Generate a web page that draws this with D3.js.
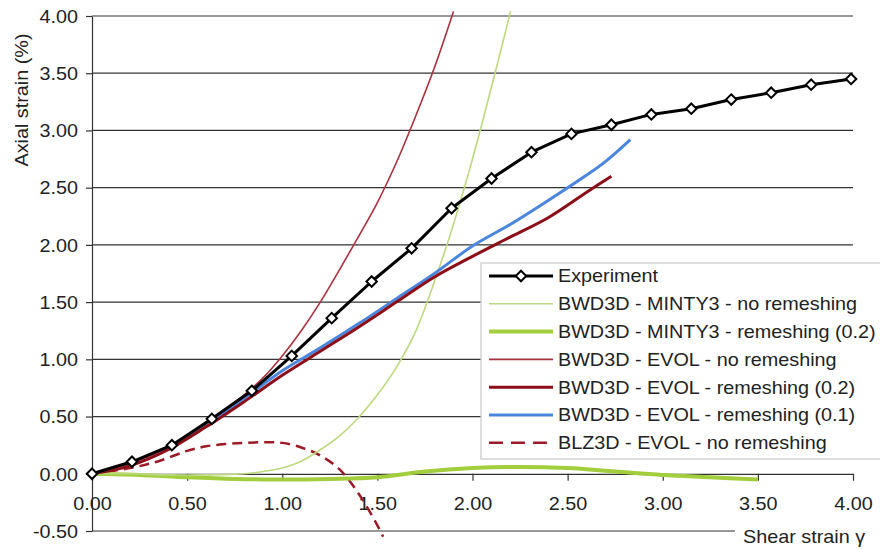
<!DOCTYPE html>
<html><head><meta charset="utf-8">
<script src="https://cdn.jsdelivr.net/npm/d3@7"></script>
<style>
body{margin:0;background:#fff}
text{font-family:"Liberation Sans",Arial,Helvetica,sans-serif;fill:#222}
</style>
</head><body>
<svg id="c" width="880" height="549"></svg>
<script>
// ---- data ----
const xTicks = [0, 0.5, 1, 1.5, 2, 2.5, 3, 3.5, 4];
const yTicks = [-0.5, 0, 0.5, 1, 1.5, 2, 2.5, 3, 3.5, 4];
const xTitle = "Shear strain γ";
const yTitle = "Axial strain (%)";

const experiment = [[0,0],[0.21,0.105],[0.42,0.25],[0.63,0.48],[0.84,0.725],[1.05,1.03],[1.26,1.36],[1.47,1.68],[1.68,1.97],[1.89,2.32],[2.10,2.58],[2.31,2.81],[2.52,2.97],[2.73,3.05],[2.94,3.14],[3.15,3.19],[3.36,3.27],[3.57,3.33],[3.78,3.40],[3.99,3.45]];
const mintyNoRemesh = [[0,0],[0.2,0],[0.4,-0.01],[0.6,-0.01],[0.8,0],[0.9,0.02],[1.0,0.05],[1.1,0.11],[1.2,0.21],[1.3,0.33],[1.4,0.49],[1.5,0.69],[1.6,0.93],[1.7,1.24],[1.8,1.68],[1.9,2.18],[2.0,2.75],[2.1,3.38],[2.2,4.04]];
const mintyRemesh02 = [[0,0],[0.25,-0.01],[0.5,-0.03],[0.75,-0.045],[1.0,-0.05],[1.25,-0.045],[1.5,-0.03],[1.75,0.02],[2.0,0.05],[2.25,0.06],[2.5,0.05],[2.75,0.02],[3.0,-0.01],[3.25,-0.03],[3.5,-0.05]];
const evolNoRemesh = [[0,0],[0.2,0.09],[0.4,0.23],[0.6,0.44],[0.8,0.69],[0.9,0.84],[1.0,1.03],[1.1,1.25],[1.2,1.50],[1.3,1.78],[1.4,2.07],[1.5,2.37],[1.6,2.72],[1.7,3.12],[1.8,3.55],[1.9,4.04]];
const evolRemesh02 = [[0,0],[0.2,0.07],[0.4,0.21],[0.6,0.41],[0.8,0.63],[1.0,0.86],[1.2,1.07],[1.4,1.28],[1.6,1.50],[1.8,1.72],[2.0,1.90],[2.2,2.07],[2.4,2.24],[2.6,2.46],[2.73,2.60]];
const evolRemesh01 = [[0,0],[0.2,0.08],[0.4,0.23],[0.6,0.43],[0.8,0.66],[1.0,0.90],[1.2,1.10],[1.4,1.31],[1.6,1.53],[1.8,1.75],[2.0,1.99],[2.2,2.18],[2.4,2.39],[2.6,2.61],[2.7,2.73],[2.83,2.92]];
const blzNoRemesh = [[0,0],[0.2,0.05],[0.35,0.11],[0.5,0.2],[0.6,0.24],[0.7,0.26],[0.8,0.27],[0.9,0.275],[1.0,0.27],[1.1,0.23],[1.2,0.16],[1.3,0.04],[1.4,-0.17],[1.5,-0.45],[1.53,-0.55]];

const seriesNames = ["Experiment","BWD3D - MINTY3 - no remeshing","BWD3D - MINTY3 - remeshing (0.2)","BWD3D - EVOL - no remeshing","BWD3D - EVOL - remeshing (0.2)","BWD3D - EVOL - remeshing (0.1)","BLZ3D - EVOL - no remeshing"];
const seriesData = [experiment, mintyNoRemesh, mintyRemesh02, evolNoRemesh, evolRemesh02, evolRemesh01, blzNoRemesh];
const seriesColors = ["#000000","#bcd97f","#a2cd3c","#a8323e","#8c0f18","#4a86dd","#9a1c28"];
const seriesWidths = [3, 1.6, 4, 1.6, 3, 3, 2.5];
const seriesDash = [null, null, null, null, null, null, "10,6"];
const drawOrder = [6, 2, 1, 5, 4, 3, 0];

// ---- chart ----
const svg = d3.select("#c");
const x = d3.scaleLinear().domain([0, 4]).range([92, 853]);
const y = d3.scaleLinear().domain([-0.5, 4]).range([531, 16]);
const fmt = d => d.toFixed(2);
const SX = 1.1;
const axisColor = "#333";

// gridlines
svg.append("g").selectAll("line").data(yTicks.filter(d => d !== 0)).join("line")
  .attr("x1", x(0)).attr("x2", x(4))
  .attr("y1", d => y(d)).attr("y2", d => y(d))
  .attr("stroke", axisColor).attr("stroke-width", 1.2);

// y axis
const gy = svg.append("g").attr("transform", `translate(${x(0)},0)`)
  .call(d3.axisLeft(y).tickValues(yTicks).tickFormat(fmt).tickSize(6).tickSizeOuter(0));
gy.select(".domain").attr("stroke", axisColor).attr("stroke-width", 1.2);
gy.selectAll(".tick line").attr("stroke", axisColor).attr("stroke-width", 1.2);
gy.selectAll(".tick text").attr("font-size", 18).attr("x", -14 / SX).attr("dy", "0.35em")
  .attr("transform", `scale(${SX},1)`).attr("fill", "#222");

// x axis at y=0
const gx = svg.append("g").attr("transform", `translate(0,${y(0)})`)
  .call(d3.axisBottom(x).tickValues(xTicks).tickFormat(fmt).tickSize(7).tickSizeOuter(0));
gx.select(".domain").attr("stroke", axisColor).attr("stroke-width", 1.2);
gx.selectAll(".tick line").attr("stroke", axisColor).attr("stroke-width", 1.2);
gx.selectAll(".tick text").attr("font-size", 18).attr("y", 36).attr("dy", 0)
  .attr("transform", `scale(${SX},1)`).attr("fill", "#222");

// axis titles
const xt = svg.append("g").attr("transform", "translate(743,543)");
xt.append("rect").attr("x", -8).attr("y", -16).attr("width", 140).attr("height", 22).attr("fill", "#fff");
xt.append("text").attr("font-size", 18).attr("transform", `scale(${SX},1)`).text(xTitle);

svg.append("text").attr("font-size", 18).attr("text-anchor", "middle")
  .attr("transform", `translate(28,100) rotate(-90) scale(${SX},1)`).text(yTitle);

// series
const plot = svg.append("g");
const lineLinear = d3.line().x(d => x(d[0])).y(d => y(d[1]));
const lineSmooth = d3.line().x(d => x(d[0])).y(d => y(d[1])).curve(d3.curveCatmullRom.alpha(0.5));
drawOrder.forEach(i => {
  plot.append("path").datum(seriesData[i])
    .attr("d", i === 0 ? lineLinear : lineSmooth)
    .attr("fill", "none")
    .attr("stroke", seriesColors[i])
    .attr("stroke-width", seriesWidths[i])
    .attr("stroke-dasharray", seriesDash[i])
    .attr("stroke-linejoin", "round");
});
const diamond = d3.symbol().type(d3.symbolDiamond2).size(70);
plot.append("g").selectAll("path").data(experiment).join("path")
  .attr("d", diamond)
  .attr("transform", d => `translate(${x(d[0])},${y(d[1])})`)
  .attr("fill", "#fff").attr("stroke", "#000").attr("stroke-width", 2);

// legend
const lg = svg.append("g");
lg.append("rect").attr("x", 481).attr("y", 263).attr("width", 420).attr("height", 196)
  .attr("fill", "#fff").attr("stroke", "#c8c8c8").attr("stroke-width", 1.2);
seriesNames.forEach((name, i) => {
  const cy = 276 + i * 27.8;
  lg.append("line").attr("x1", 489).attr("x2", 553).attr("y1", cy).attr("y2", cy)
    .attr("stroke", seriesColors[i]).attr("stroke-width", seriesWidths[i])
    .attr("stroke-dasharray", seriesDash[i] ? "14,8" : null);
  if (i === 0) {
    lg.append("path").attr("d", diamond).attr("transform", `translate(521,${cy})`)
      .attr("fill", "#fff").attr("stroke", "#000").attr("stroke-width", 2);
  }
  lg.append("text").attr("font-size", 18)
    .attr("transform", `translate(558,${cy + 6.4}) scale(${SX},1)`).text(name);
});
</script>
</body></html>
